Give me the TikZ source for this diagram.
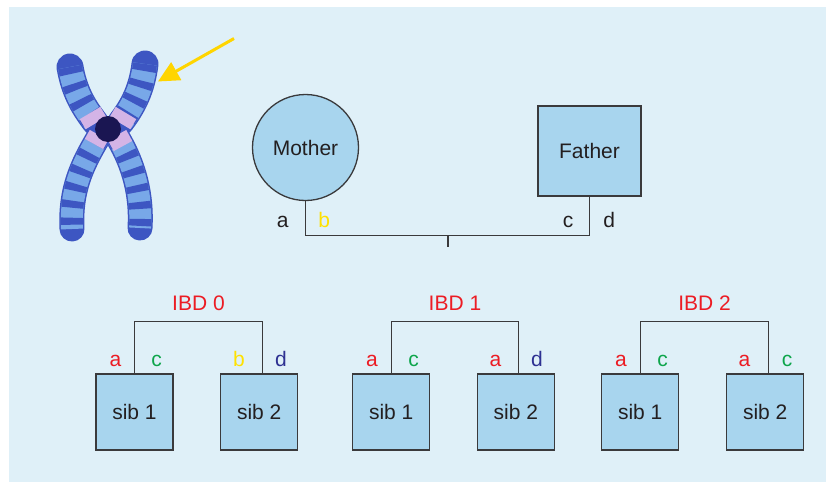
\documentclass[tikz,border=0pt]{standalone}
\usepackage{fontspec}
\setmainfont{Liberation Sans}
\usetikzlibrary{arrows.meta}

\definecolor{panel}{HTML}{DFF0F8}
\definecolor{boxfill}{HTML}{A8D5EE}
\definecolor{edge}{HTML}{3A3A3C}
\definecolor{ink}{HTML}{231F20}
\definecolor{allelered}{HTML}{EC1C24}
\definecolor{allelegreen}{HTML}{0DA54B}
\definecolor{alleleyellow}{HTML}{FFE100}
\definecolor{alleleblue}{HTML}{2E3192}
\definecolor{arrowyellow}{HTML}{FFD500}
\definecolor{armdark}{HTML}{3D56C2}
\definecolor{armlight}{HTML}{78A8E8}
\definecolor{armpink}{HTML}{D4B4E6}
\definecolor{centro}{HTML}{1A1652}

% one banded chromosome arm: #1 outer width, #2 inner width, #3 path
\newcommand\chromarm[3]{%
  \draw[armdark, line width=#1, line cap=round] #3;
  \draw[armlight, line width=#2, line cap=butt] #3;
  \draw[armdark, line width=#2, line cap=butt, dash pattern=on 7pt off 10pt] #3;
}

\begin{document}
\begin{tikzpicture}[x=1pt,y=-1pt,
  every node/.style={font=\fontsize{21}{25}\selectfont, text=ink},
  person/.style={draw=edge, line width=1.3pt, fill=boxfill, inner sep=0pt},
  sibbox/.style={person, rectangle, minimum width=77pt, minimum height=76pt},
  link/.style={draw=edge, line width=1.3pt},
  allele/.style={anchor=base, inner sep=0pt},
  ibd/.style={anchor=base, inner sep=0pt, text=allelered},
]
\useasboundingbox (0,0) rectangle (826,482);
\fill[panel] (9,7) rectangle (826,482);

% chromosome
\chromarm{27pt}{24pt}{(70,67) .. controls (74,90) and (82,105) .. (95,122)}
\chromarm{27pt}{24pt}{(145,64) .. controls (142,88) and (134,105) .. (121,122)}
\chromarm{25pt}{22pt}{(98,138) .. controls (82,165) and (70,190) .. (72,229)}
\chromarm{25pt}{22pt}{(118,138) .. controls (134,165) and (142,195) .. (140,228)}
\draw[armpink, line width=24pt] (90,113) -- (96,123);
\draw[armpink, line width=24pt] (126,113) -- (120,123);
\draw[armpink, line width=21pt] (99,135) -- (94,144);
\draw[armpink, line width=21pt] (117,135) -- (123,146);
\fill[centro] (108,129) circle (13pt);

% pointer arrow
\coordinate (arrowtail) at (234,38.5);
\coordinate (arrowtip) at (158,81.5);
\draw[arrowyellow, line width=3pt, -{Triangle[length=21pt,width=20pt]}] (arrowtail) -- (arrowtip);

% parents
\node[person, circle, minimum size=106pt] (mother) at (305.5,147.5) {Mother};
\node[person, rectangle, minimum width=103pt, minimum height=90pt] (father) at (589.5,151) {Father};
\coordinate (mj) at (305.5,235.5);
\coordinate (fj) at (589.5,235.5);
\coordinate (tick) at (448,235.5);
\coordinate (tickend) at (448,247);
\draw[link] (mother.south) -- (mj) -- (fj) -- (father.south);
\draw[link] (tick) -- (tickend);
\node[allele] (pa) at (282.7,227.7) {a};
\node[allele, text=alleleyellow] (pb) at (324.3,227.7) {b};
\node[allele] (pc) at (568,227.7) {c};
\node[allele] (pd) at (609.3,227.7) {d};

% sibling pairs
\node[sibbox] (g0s1) at (134.5,412) {sib 1};
\node[sibbox] (g0s2) at (259.2,412) {sib 2};
\node[sibbox] (g1s1) at (391.2,412) {sib 1};
\node[sibbox] (g1s2) at (515.8,412) {sib 2};
\node[sibbox] (g2s1) at (640.2,412) {sib 1};
\node[sibbox] (g2s2) at (765.2,412) {sib 2};

\draw[link] (g0s1.north) -- ++(0,-52) -| ([xshift=3pt]g0s2.north);
\draw[link] (g1s1.north) -- ++(0,-52) -| ([xshift=3pt]g1s2.north);
\draw[link] (g2s1.north) -- ++(0,-52) -| ([xshift=3pt]g2s2.north);

\node[ibd] (ibd0) at (198.5,310.7) {IBD 0};
\node[ibd] (ibd1) at (455,310.7) {IBD 1};
\node[ibd] (ibd2) at (704.5,310.7) {IBD 2};

\node[allele, text=allelered] (g0a) at (115.5,366.5) {a};
\node[allele, text=allelegreen] (g0c) at (156.5,366.5) {c};
\node[allele, text=alleleyellow] (g0b) at (239,366.5) {b};
\node[allele, text=alleleblue] (g0d) at (281,366.5) {d};

\node[allele, text=allelered] (g1a) at (372,366.5) {a};
\node[allele, text=allelegreen] (g1c) at (413.5,366.5) {c};
\node[allele, text=allelered] (g1a2) at (495.5,366.5) {a};
\node[allele, text=alleleblue] (g1d) at (537,366.5) {d};

\node[allele, text=allelered] (g2a) at (621,366.5) {a};
\node[allele, text=allelegreen] (g2c) at (662.5,366.5) {c};
\node[allele, text=allelered] (g2a2) at (744.5,366.5) {a};
\node[allele, text=allelegreen] (g2c2) at (787,366.5) {c};
\end{tikzpicture}
\end{document}
